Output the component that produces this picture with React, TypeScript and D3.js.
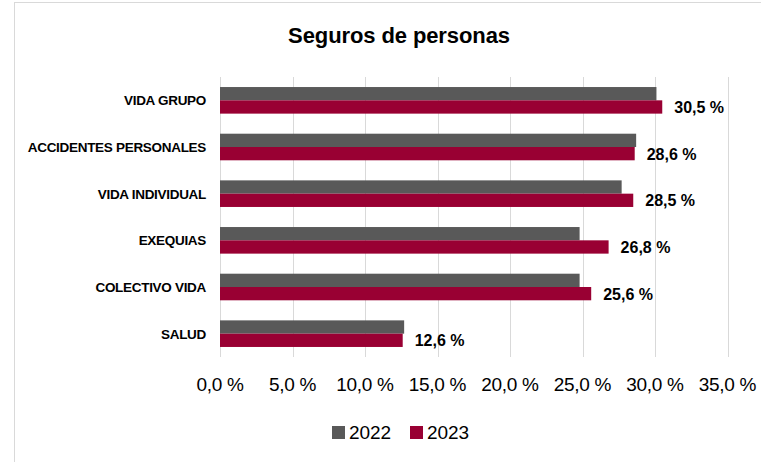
import React from "react";
import * as d3 from "d3";

const categories = ["VIDA GRUPO", "ACCIDENTES PERSONALES", "VIDA INDIVIDUAL", "EXEQUIAS", "COLECTIVO VIDA", "SALUD"];
const values2022 = [30.1, 28.7, 27.7, 24.8, 24.8, 12.7];
const values2023 = [30.5, 28.6, 28.5, 26.8, 25.6, 12.6];
const seriesNames = ["2022", "2023"];
const seriesColors = ["#595959", "#990033"];
const ticks = [0, 5, 10, 15, 20, 25, 30, 35];

const fmt = (v: number) => v.toFixed(1).replace(".", ",") + " %";

export default function App() {
  const W = 761, H = 462;
  const x = d3.scaleLinear().domain([0, 35]).range([220, 727.5]);
  const y = d3.scaleBand<string>().domain(categories).range([77, 357]).paddingInner(0.43).paddingOuter(0.215);
  const inner = d3.scaleBand<string>().domain(seriesNames).range([0, y.bandwidth()]);
  const font = "'Liberation Sans', Arial, sans-serif";
  const series = [values2022, values2023];

  return (
    <svg width={W} height={H} style={{ position: "absolute", left: 0, top: 0 }} fontFamily={font}>
      <rect x={0} y={0} width={W} height={H} fill="#fff" />
      <rect x={14.5} y={2.5} width={W} height={H} fill="none" stroke="#d9d9d9" strokeWidth={1} />
      <text x={399} y={43} textAnchor="middle" fontSize={22} fontWeight="bold" fill="#000" letterSpacing={-0.1}>
        Seguros de personas
      </text>
      {ticks.map((t) => (
        <line key={t} x1={Math.round(x(t)) + 0.5} x2={Math.round(x(t)) + 0.5} y1={77} y2={357} stroke="#d9d9d9" strokeWidth={1} />
      ))}
      {categories.map((c, i) => (
        <g key={c}>
          {series.map((vals, s) => (
            <rect
              key={s}
              x={x(0)}
              y={(y(c) as number) + (inner(seriesNames[s]) as number)}
              width={x(vals[i]) - x(0)}
              height={inner.bandwidth()}
              fill={seriesColors[s]}
            />
          ))}
          <text
            x={206}
            y={(y(c) as number) + y.bandwidth() / 2 + 4.9}
            textAnchor="end"
            fontSize={13.5}
            fontWeight="bold"
            letterSpacing={-0.3}
            fill="#000"
          >
            {c}
          </text>
          <text
            x={x(values2023[i]) + 12}
            y={(y(c) as number) + (inner("2023") as number) + inner.bandwidth() / 2 + 6}
            fontSize={16}
            fontWeight="bold"
            fill="#000"
          >
            {fmt(values2023[i])}
          </text>
        </g>
      ))}
      {ticks.map((t) => (
        <text key={t} x={x(t)} y={391} textAnchor="middle" fontSize={19} fill="#000" letterSpacing={-0.3}>
          {fmt(t)}
        </text>
      ))}
      <g>
        <rect x={332} y={426} width={13} height={13} fill={seriesColors[0]} />
        <text x={349} y={439} fontSize={19} fill="#000" letterSpacing={-0.1}>{seriesNames[0]}</text>
        <rect x={410} y={426} width={13} height={13} fill={seriesColors[1]} />
        <text x={427} y={439} fontSize={19} fill="#000" letterSpacing={-0.1}>{seriesNames[1]}</text>
      </g>
    </svg>
  );
}
